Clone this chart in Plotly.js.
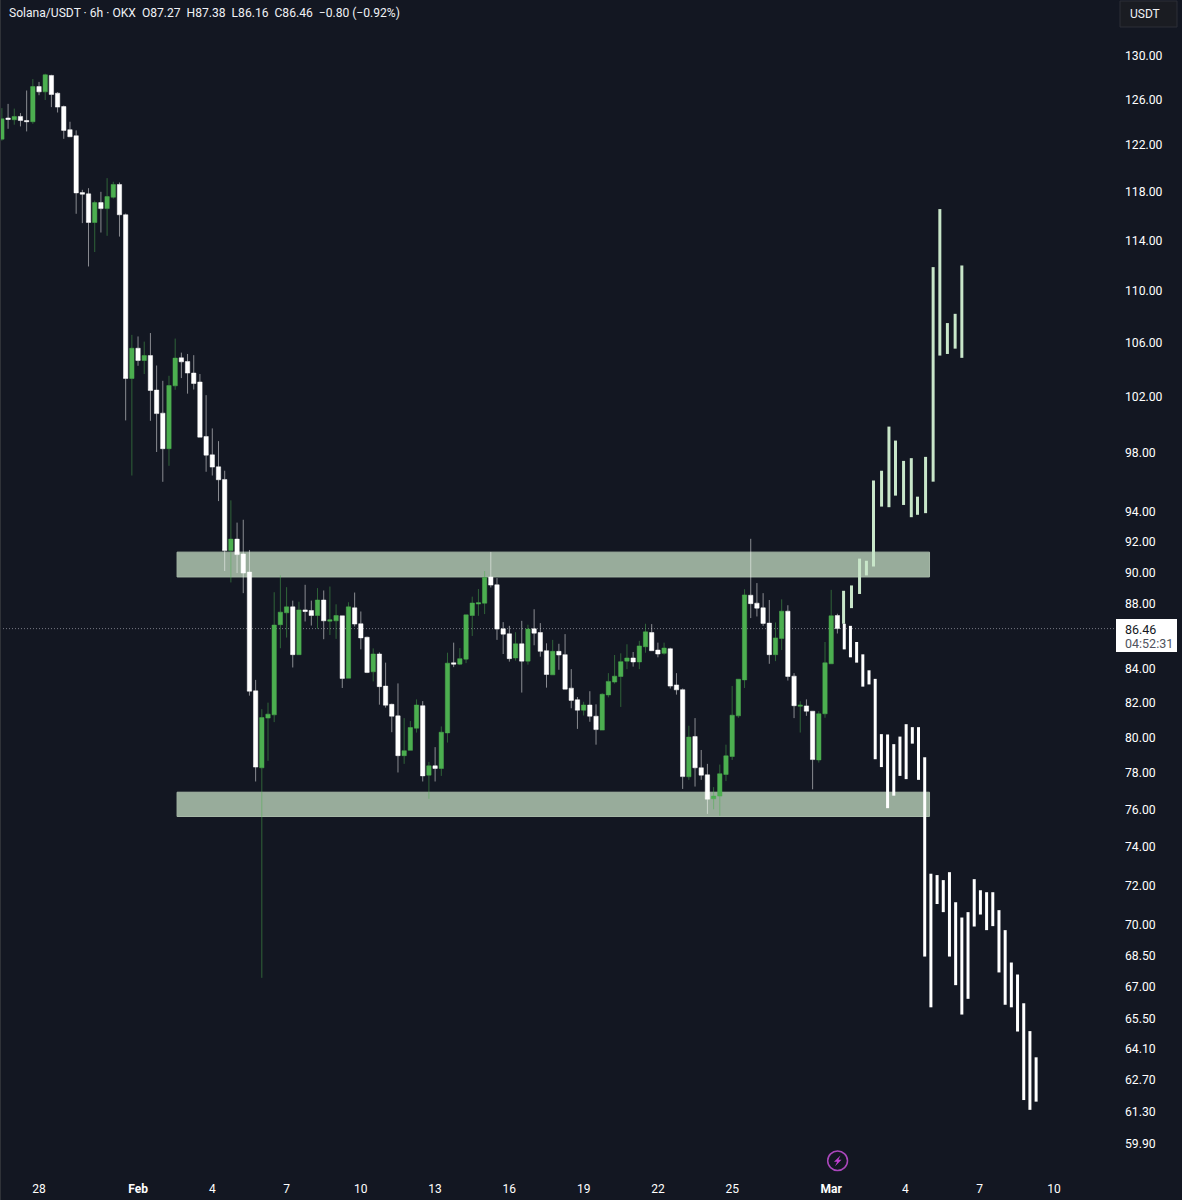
<!DOCTYPE html>
<html>
<head>
<meta charset="utf-8">
<script src="https://cdn.plot.ly/plotly-3.0.1.min.js"></script>
<style>html,body{margin:0;padding:0;background:#131722;overflow:hidden}</style>
</head>
<body>
<div id="chart"></div>
<script>
// ---------- candles (6h, Jan 26 12:00 .. Mar 1 06:00) ----------
const firstCandle = '2026-01-26T12:00:00Z';
const opens = [
122.52,124.38,124.23,124.52,124.16,124.05,127.2,126.72,128.21,126.60,
125.4,123.35,122.82,117.95,117.84,115.46,117.11,116.61,117.56,118.63,
116.10,103.32,105.57,104.65,105.02,102.47,100.80,98.28,102.78,104.85,
104.58,103.72,103.06,99.14,97.85,97.02,96.15,91.40,92.15,91.18,
90.01,82.71,78.30,81.12,81.31,86.70,87.44,87.81,84.87,87.62,
87.58,87.27,88.24,86.92,86.94,87.25,83.46,87.75,86.76,85.93,
83.84,84.91,82.99,81.92,81.25,78.98,79.28,80.54,81.84,77.89,
78.41,78.26,80.27,84.38,84.30,84.60,87.27,87.99,88.04,89.69,
89.20,86.45,86.14,84.67,85.53,84.48,86.45,86.22,85.11,83.66,
85.07,84.87,82.87,82.19,81.58,81.88,81.23,80.43,82.47,83.23,
83.56,84.48,84.67,84.43,85.35,86.22,85.15,84.95,85.23,83.06,
82.78,77.80,80.06,78.30,77.91,76.59,76.74,77.93,78.93,81.25,
83.36,88.54,88.04,87.75,86.80,84.87,85.85,87.54,83.58,81.81,
81.83,81.52,78.74,81.37,84.32,87.27];
const highs = [
125.26,125.64,125.22,124.82,126.84,127.88,127.62,128.37,128.27,126.69,
125.49,124.05,123.29,118.18,118.32,117.27,118.01,119.17,118.86,118.80,
116.20,106.58,106.46,106.07,106.72,104.28,103.15,103.52,106.30,105.24,
105.14,105.05,103.65,102.10,99.71,98.81,96.75,94.73,93.24,93.43,
91.44,83.36,81.64,82.02,88.73,89.80,89.05,88.20,88.13,89.20,
88.20,88.99,88.84,89.09,87.97,87.25,88.10,88.71,87.52,85.97,
85.25,85.01,84.39,81.96,83.15,81.12,80.95,82.21,82.11,78.63,
79.46,80.64,84.99,85.60,85.27,87.31,88.45,88.93,90.08,91.31,
89.63,86.86,86.63,86.24,86.94,86.70,87.66,86.80,85.56,85.77,
85.53,86.12,84.00,82.35,82.07,82.69,81.92,82.57,83.76,84.85,
84.95,85.50,85.03,85.71,86.76,86.74,85.60,85.60,85.29,83.76,
82.85,80.68,81.12,79.30,78.52,77.23,78.48,79.60,83.00,83.40,
88.92,92.17,89.31,88.67,88.24,86.84,88.28,87.91,83.76,82.10,
82.21,81.52,81.52,85.64,88.88,87.38];
const lows = [
122.39,123.43,123.79,123.64,123.20,123.87,126.42,125.99,125.35,124.87,
122.55,122.73,116.18,115.41,111.90,113.06,114.64,114.37,117.44,114.31,
100.28,96.42,104.26,103.65,100.25,98.05,95.99,97.09,102.49,103.35,
102.21,102.51,99.09,96.68,96.42,94.68,90.08,89.35,89.95,88.67,
82.43,77.54,67.42,78.69,80.89,85.26,85.91,84.10,84.87,86.90,
86.65,86.45,85.81,86.07,85.83,82.88,83.46,86.59,85.19,83.76,
83.27,81.90,81.73,80.31,78.04,78.52,79.28,80.29,77.54,76.59,
77.54,77.85,79.72,84.12,84.24,84.36,86.01,87.25,87.36,89.03,
85.77,84.91,84.45,84.51,82.61,84.27,85.44,84.75,82.90,83.66,
83.96,82.81,81.69,80.50,81.27,80.91,79.60,80.43,82.33,83.14,
81.77,84.00,84.15,84.00,84.99,85.11,84.71,84.87,82.85,82.49,
77.13,77.63,77.26,77.63,75.77,76.02,75.67,77.56,78.74,81.14,
82.88,87.11,87.21,86.63,84.32,84.48,85.15,83.32,81.12,80.29,
81.25,77.11,78.59,81.14,84.32,86.16];
const closes = [
124.31,124.25,124.52,124.16,124.05,127.2,126.72,128.27,126.48,125.35,
123.29,122.73,117.92,117.81,115.46,117.11,116.61,117.61,118.63,116.10,
103.32,105.57,104.65,105.02,102.44,100.77,98.28,102.80,104.83,104.55,
103.72,102.95,99.09,97.83,97.00,96.13,91.40,92.15,91.14,89.95,
82.69,78.34,81.15,81.35,86.68,87.48,87.81,84.87,87.62,87.52,
87.27,88.24,86.94,87.00,87.27,83.44,87.81,86.74,85.89,83.80,
84.91,82.96,81.87,81.23,78.98,79.26,80.58,81.88,77.85,78.41,
78.26,80.31,84.36,84.30,84.63,87.31,88.05,88.07,89.67,89.18,
86.43,86.12,84.63,85.53,84.48,86.43,86.18,85.07,83.68,85.07,
84.85,82.81,82.15,81.58,81.88,81.23,80.46,82.51,83.27,83.58,
84.45,84.67,84.43,85.40,86.26,85.11,84.91,85.27,82.99,82.77,
77.81,80.03,78.30,77.89,76.57,76.74,77.97,78.97,81.29,83.40,
88.56,88.01,87.73,86.78,84.87,85.89,87.54,83.56,81.84,81.87,
81.52,78.76,81.37,84.38,87.25,86.46];

// ---------- projected bullish bars ----------
const upTimes = ['2026-03-01T12:00Z','2026-03-01T19:40Z','2026-03-02T03:30Z','2026-03-02T10:10Z','2026-03-02T17:00Z',
'2026-03-03T00:50Z','2026-03-03T08:00Z','2026-03-03T14:20Z','2026-03-03T22:10Z','2026-03-04T05:40Z','2026-03-04T11:40Z',
'2026-03-04T19:30Z','2026-03-05T02:50Z','2026-03-05T09:20Z','2026-03-05T16:40Z','2026-03-06T00:10Z','2026-03-06T06:40Z'];
const upTops = [88.82,89.16,90.88,90.74,96.08,96.75,99.84,98.85,97.43,97.62,94.98,97.71,111.85,116.57,107.48,108.19,111.98];
const upBottoms = [86.76,87.73,88.62,89.80,90.37,94.31,94.27,95.05,94.42,93.60,93.76,93.87,96.00,105.02,105.14,105.54,104.85];

// ---------- projected bearish bars (6h from Mar 1 12:40) ----------
const downStart = '2026-03-01T12:40:00Z';
const downTops = [86.76,86.63,85.64,84.89,83.93,83.42,80.20,80.18,79.63,80.06,80.77,80.60,80.60,78.89,
72.61,72.54,72.28,72.69,71.15,70.38,70.65,72.33,71.76,71.66,71.66,70.75,69.75,68.16,67.58,66.21,64.91,63.71];
const downBottoms = [85.19,84.71,84.39,82.96,83.09,78.78,78.34,76.08,76.76,77.85,77.67,79.66,77.63,68.45,
66.02,71.06,70.65,68.45,67.07,65.68,66.42,69.93,70.53,69.75,69.95,67.68,66.14,66.02,64.89,61.80,61.37,61.73];

// ---------- zones ----------
const zoneStart = '2026-02-02T13:50:00Z';
const zoneEnd = '2026-03-04T23:20:00Z';
const upperZone = [89.70, 91.30];
const lowerZone = [75.63, 76.95];
const lastPrice = 86.46;

// ---------- axis labels ----------
const yTicks = [130,126,122,118,114,110,106,102,98,94,92,90,88,84,82,80,78,76,74,72,70,68.5,67,65.5,64.1,62.7,61.3,59.9];
const yLabels = yTicks.map(v => v.toFixed(2));
const xTicks = ['2026-01-28','2026-02-01','2026-02-04','2026-02-07','2026-02-10','2026-02-13','2026-02-16','2026-02-19','2026-02-22','2026-02-25','2026-03-01','2026-03-04','2026-03-07','2026-03-10'];
const xLabels = ['28','<b>Feb</b>','4','7','10','13','16','19','22','25','<b>Mar</b>','4','7','10'];
const headerText = 'Solana/USDT · 6h · OKX  O87.27  H87.38  L86.16  C86.46  −0.80 (−0.92%)';

const W = 1182, H = 1200, plotW = 1120, plotH = 1170;
const px = x => x / plotW, py = y => 1 - y / plotH;
const FONT = 'Roboto, "Noto Sans", sans-serif';

function sixHourly(start, n) {
  const t0 = Date.parse(start), out = [];
  for (let i = 0; i < n; i++) out.push(new Date(t0 + i * 21600000).toISOString());
  return out;
}
function segments(times, tops, bottoms) {
  const x = [], y = [];
  times.forEach((t, i) => { x.push(t, t, null); y.push(tops[i], bottoms[i], null); });
  return {x, y};
}
const up = segments(upTimes, upTops, upBottoms);
const down = segments(sixHourly(downStart, downTops.length), downTops, downBottoms);

const traces = [
  {type: 'candlestick', x: sixHourly(firstCandle, opens.length), open: opens, high: highs, low: lows, close: closes,
   whiskerwidth: 0, hoverinfo: 'skip',
   increasing: {line: {color: 'rgba(76,175,80,0.5)', width: 1}, fillcolor: '#4caf50'},
   decreasing: {line: {color: 'rgba(255,255,255,0.5)', width: 1}, fillcolor: '#ffffff'}},
  {type: 'scatter', mode: 'lines', x: up.x, y: up.y, line: {color: '#c8e6c9', width: 3}, connectgaps: false, hoverinfo: 'skip'},
  {type: 'scatter', mode: 'lines', x: down.x, y: down.y, line: {color: '#ffffff', width: 3}, connectgaps: false, hoverinfo: 'skip'}
];

function zoneShape(z) {
  return {type: 'rect', xref: 'x', yref: 'y', x0: zoneStart, x1: zoneEnd, y0: z[0], y1: z[1],
          fillcolor: '#98ac9b', line: {color: '#a6b8a7', width: 1}, layer: 'below'};
}
const pxPath = pts => pts.map((p, i) => (i ? 'L' : 'M') + px(p[0]).toFixed(5) + ',' + py(p[1]).toFixed(5)).join(' ') + ' Z';

const shapes = [
  zoneShape(upperZone), zoneShape(lowerZone),
  {type: 'line', xref: 'paper', yref: 'y', x0: 0, x1: px(1116), y0: lastPrice, y1: lastPrice,
   line: {color: '#767984', width: 1, dash: '1px,2px'}, layer: 'below'},
  {type: 'line', xref: 'paper', yref: 'paper', x0: 0, x1: 0, y0: py(1200), y1: 1, line: {color: '#2f3238', width: 2}, layer: 'above'},
  // USDT button
  {type: 'rect', xref: 'paper', yref: 'paper', x0: px(1120), x1: px(1177), y0: py(27), y1: py(1),
   fillcolor: '#1a1c22', line: {color: '#2c2f37', width: 1}, layer: 'above'},
  // price tag
  {type: 'rect', xref: 'paper', yref: 'paper', x0: px(1116), x1: px(1177), y0: py(652), y1: py(619),
   fillcolor: '#ffffff', line: {width: 0}, layer: 'above'},
  // lightning badge
  {type: 'circle', xref: 'paper', yref: 'paper', x0: px(827.7), x1: px(847.5), y0: py(1170.5), y1: py(1151),
   fillcolor: 'rgba(0,0,0,0)', line: {color: '#ab47bc', width: 1.5}, layer: 'above'},
  {type: 'path', xref: 'paper', yref: 'paper', layer: 'above', fillcolor: '#c13fd0', line: {width: 0},
   path: pxPath([[840.5,1155.5],[834,1161.8],[837.2,1161.8],[835,1166.3],[841.5,1159.8],[838.4,1159.8]])}
];

function label(text, x, y, size, color, anchor) {
  return {text, xref: 'paper', yref: 'paper', x: px(x), y: py(y), xanchor: anchor || 'left', yanchor: 'middle',
          showarrow: false, font: {family: FONT, size, color}, align: 'left'};
}
const annotations = [
  label(headerText.replace(/  /g, '&nbsp;&nbsp;'), 7, 13.5, 12.1, '#f0f2f6'),
  label('USDT', 1128, 14, 12, '#f0f2f6'),
  label('86.46', 1123, 629, 12.5, '#131722'),
  label('04:52:31', 1123, 643, 12.5, '#50535e')
];

const layout = {
  width: W, height: H, autosize: false, showlegend: false,
  margin: {l: 0, r: W - plotW, t: 0, b: H - plotH, pad: 0},
  paper_bgcolor: '#131722', plot_bgcolor: '#131722',
  font: {family: FONT, size: 12, color: '#ffffff'},
  dragmode: false, hovermode: false,
  xaxis: {type: 'date', range: ['2026-01-26 10:10', '2026-03-12 16:00'], tickmode: 'array', tickvals: xTicks, ticktext: xLabels,
          showgrid: false, zeroline: false, showline: false, ticks: '', rangeslider: {visible: false}, tickangle: 0, ticklabelstandoff: 10,
          tickfont: {family: FONT, size: 12, color: '#ffffff'}},
  yaxis: {type: 'log', range: [1.76935, 2.13126], side: 'right', tickmode: 'array', tickvals: yTicks, ticktext: yLabels,
          showgrid: false, zeroline: false, showline: false, ticks: '', ticklabelstandoff: 4, tickfont: {family: FONT, size: 12.2, color: '#ffffff'}},
  shapes, annotations, boxgap: 0
};
Plotly.newPlot('chart', traces, layout, {staticPlot: true, displayModeBar: false});
</script>
</body>
</html>
